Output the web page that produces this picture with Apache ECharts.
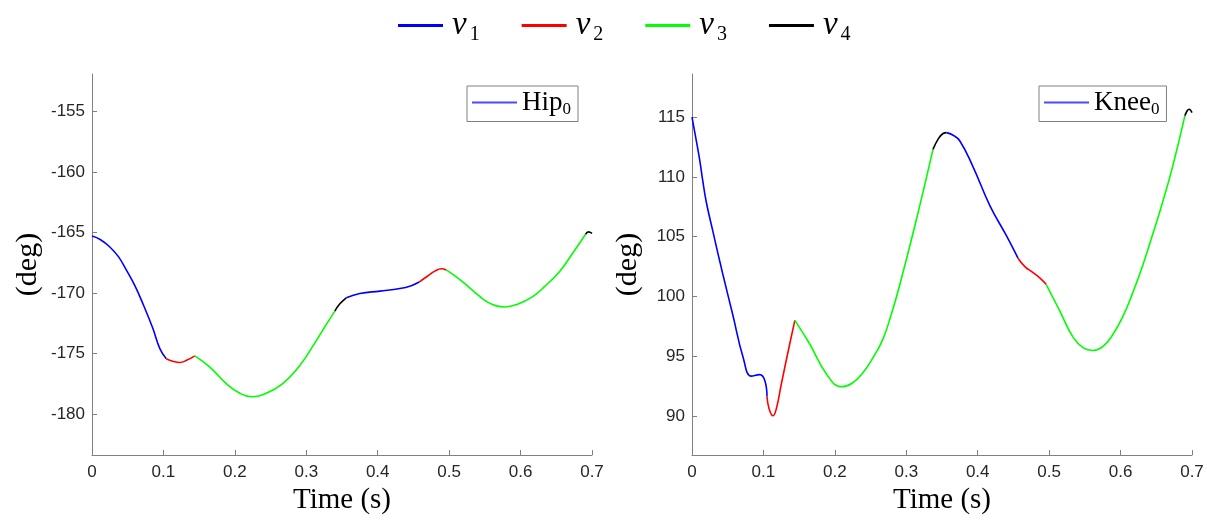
<!DOCTYPE html>
<html>
<head>
<meta charset="utf-8">
<script src="https://cdn.jsdelivr.net/npm/echarts@6/dist/echarts.min.js"></script>
<style>
html,body{margin:0;padding:0;background:#fff;}
#chart{width:1207px;height:520px;}
</style>
</head>
<body>
<div id="chart"></div>
<script>
// ---------------- data ----------------
const phaseNames = ['v1', 'v2', 'v3', 'v4'];
const phaseSeq = ['v1', 'v2', 'v3', 'v4', 'v1', 'v2', 'v3', 'v4'];
const xTicks = [0, 0.1, 0.2, 0.3, 0.4, 0.5, 0.6, 0.7];
const hipTicks = [-180, -175, -170, -165, -160, -155];
const kneeTicks = [90, 95, 100, 105, 110, 115];
const hipRange = [-183.4, -151.9];
const kneeRange = [86.75, 118.6];

const hipBounds = [0, 0.104, 0.144, 0.340, 0.356, 0.458, 0.496, 0.691, 0.700];
const hipT = [0, 0.012, 0.025, 0.037, 0.048, 0.06, 0.072, 0.085, 0.095, 0.104,
  0.113, 0.123, 0.133, 0.144,
  0.165, 0.188, 0.207, 0.223, 0.244, 0.267, 0.291, 0.314, 0.327, 0.340,
  0.347, 0.356,
  0.375, 0.403, 0.431, 0.447, 0.458,
  0.47, 0.48, 0.489, 0.496,
  0.515, 0.534, 0.552, 0.565, 0.578, 0.595, 0.617, 0.635, 0.655, 0.672, 0.691,
  0.695, 0.700];
const hipV = [-165.3, -165.6, -166.2, -167.0, -168.1, -169.4, -171.0, -172.9, -174.6, -175.45,
  -175.65, -175.75, -175.55, -175.2,
  -176.13, -177.5, -178.3, -178.58, -178.3, -177.5, -176.0, -173.94, -172.7, -171.5,
  -170.9, -170.4,
  -170.05, -169.85, -169.64, -169.4, -169.1,
  -168.6, -168.2, -168.0, -168.1,
  -168.9, -169.85, -170.7, -171.05, -171.16, -170.95, -170.3, -169.4, -168.2, -166.8, -165.15,
  -164.95, -165.08];

const kneeBounds = [0, 0.105, 0.144, 0.3374, 0.356, 0.4564, 0.496, 0.690, 0.700];
const kneeT = [0, 0.0055, 0.0108, 0.015, 0.020, 0.0294, 0.043, 0.057, 0.0714, 0.0831, 0.0948, 0.1018, 0.105,
  0.108, 0.1134, 0.118, 0.1252, 0.1368, 0.144,
  0.1648, 0.188, 0.209, 0.224, 0.239, 0.253, 0.267, 0.279, 0.291, 0.314, 0.3374,
  0.345, 0.352, 0.356,
  0.365, 0.375, 0.393, 0.417, 0.440, 0.4564,
  0.466, 0.4774, 0.488, 0.496,
  0.5148, 0.5334, 0.548, 0.5614, 0.575, 0.589, 0.603, 0.617, 0.631, 0.645, 0.659, 0.673, 0.690,
  0.6935, 0.696, 0.700];
const kneeV = [115.0, 113.2, 111.4, 109.7, 107.9, 105.4, 101.9, 98.5, 94.95, 93.34, 93.47, 93.0, 91.63,
  90.6, 90.03, 90.6, 92.73, 96.03, 98.0,
  96.03, 93.55, 92.45, 92.75, 93.6, 94.85, 96.4, 98.5, 101.0, 106.4, 112.3,
  113.2, 113.65, 113.7,
  113.5, 113.0, 110.9, 107.6, 105.1, 103.2,
  102.5, 102.0, 101.5, 101.0,
  98.8, 96.6, 95.7, 95.49, 95.8, 96.8, 98.3, 100.3, 102.6, 105.2, 107.9, 110.9, 115.1,
  115.55, 115.65, 115.37];

// ---------------- styling ----------------
const phaseColor = {v1: '#0000ff', v2: '#ff0000', v3: '#00ff00', v4: '#000000'};
const axisGrey = '#808080';
const tickFont = 'Liberation Sans';
const serif = 'Liberation Serif';

function buildSeries(times, values, bounds, idx) {
  const out = [];
  for (let i = 0; i < phaseSeq.length; i++) {
    const lo = bounds[i], hi = bounds[i + 1];
    const data = [];
    for (let j = 0; j < times.length; j++) {
      if (times[j] >= lo - 1e-9 && times[j] <= hi + 1e-9) data.push([times[j], values[j]]);
    }
    const c = phaseColor[phaseSeq[i]];
    out.push({
      type: 'line', name: phaseSeq[i], xAxisIndex: idx, yAxisIndex: idx,
      data: data, smooth: 0.45, showSymbol: false, symbol: 'none',
      color: c, lineStyle: {width: 1.6, color: c}, itemStyle: {color: c},
      silent: true, animation: false, z: 3
    });
  }
  return out;
}

function xAxisDef(idx) {
  return {
    type: 'value', gridIndex: idx, min: 0, max: 0.7,
    name: 'Time (s)', nameLocation: 'middle', nameGap: 31,
    nameTextStyle: {fontFamily: serif, fontSize: 29, color: '#000'},
    axisLine: {show: true, lineStyle: {color: axisGrey, width: 1}},
    axisTick: {show: true, inside: true, length: 5, customValues: xTicks, lineStyle: {color: axisGrey}},
    axisLabel: {customValues: xTicks, margin: 9, fontFamily: tickFont, fontSize: 17, color: '#262626',
      formatter: v => (Math.abs(v) < 1e-9 ? '0' : String(+v.toFixed(1)))},
    splitLine: {show: false}
  };
}
function yAxisDef(idx, range, ticks) {
  return {
    type: 'value', gridIndex: idx, min: range[0], max: range[1],
    name: '(deg)', nameLocation: 'middle', nameGap: 49,
    nameTextStyle: {fontFamily: serif, fontSize: 30, color: '#000'},
    axisLine: {show: true, lineStyle: {color: axisGrey, width: 1}},
    axisTick: {show: true, inside: true, length: 5, customValues: ticks, lineStyle: {color: axisGrey}},
    axisLabel: {customValues: ticks, margin: 7, fontFamily: tickFont, fontSize: 17, color: '#262626'},
    splitLine: {show: false}
  };
}

const subRich = (big, small) => ({
  m: {fontFamily: serif, fontStyle: 'italic', fontSize: big, color: '#000', lineHeight: 38, padding: [0, 1, 0, 4]},
  s: {fontFamily: serif, fontSize: small, color: '#000', lineHeight: small + 2, verticalAlign: 'bottom', padding: [0, 0, 0, 2]}
});
const boxRich = {
  m: {fontFamily: serif, fontSize: 27, color: '#000', lineHeight: 32},
  s: {fontFamily: serif, fontSize: 17, color: '#000', lineHeight: 17, verticalAlign: 'bottom'}
};

const series = [].concat(
  buildSeries(hipT, hipV, hipBounds, 0),
  buildSeries(kneeT, kneeV, kneeBounds, 1),
  [
    {type: 'line', name: 'Hip0', xAxisIndex: 0, yAxisIndex: 0, data: [], color: '#4a4aff',
      lineStyle: {color: '#4a4aff'}, itemStyle: {color: '#4a4aff'}, showSymbol: false},
    {type: 'line', name: 'Knee0', xAxisIndex: 1, yAxisIndex: 1, data: [], color: '#4a4aff',
      lineStyle: {color: '#4a4aff'}, itemStyle: {color: '#4a4aff'}, showSymbol: false}
  ]
);

const option = {
  backgroundColor: '#fff',
  animation: false,
  grid: [
    {left: 92, top: 74, width: 500, height: 385, containLabel: false},
    {left: 692, top: 74, width: 500, height: 385, containLabel: false}
  ],
  xAxis: [xAxisDef(0), xAxisDef(1)],
  yAxis: [yAxisDef(0, hipRange, hipTicks), yAxisDef(1, kneeRange, kneeTicks)],
  legend: [
    {
      data: phaseNames, left: 398, top: 9, icon: 'rect', itemWidth: 45, itemHeight: 3,
      itemGap: 42, selectedMode: false, padding: 0,
      formatter: n => '{m|' + n.charAt(0) + '}{s|' + n.slice(1) + '}',
      textStyle: {rich: subRich(33, 20)}
    },
    {
      data: ['Hip0'], left: 467, top: 86, icon: 'rect', itemWidth: 45, itemHeight: 2,
      selectedMode: false, padding: [3, 7, 3, 5], borderColor: axisGrey, borderWidth: 1,
      backgroundColor: '#fff',
      formatter: n => '{m|Hip}{s|0}', textStyle: {rich: boxRich}
    },
    {
      data: ['Knee0'], left: 1039, top: 86, icon: 'rect', itemWidth: 45, itemHeight: 2,
      selectedMode: false, padding: [3, 7, 3, 5], borderColor: axisGrey, borderWidth: 1,
      backgroundColor: '#fff',
      formatter: n => '{m|Knee}{s|0}', textStyle: {rich: boxRich}
    }
  ],
  series: series
};

const chart = echarts.init(document.getElementById('chart'), null, {renderer: 'canvas'});
chart.setOption(option);
</script>
</body>
</html>
